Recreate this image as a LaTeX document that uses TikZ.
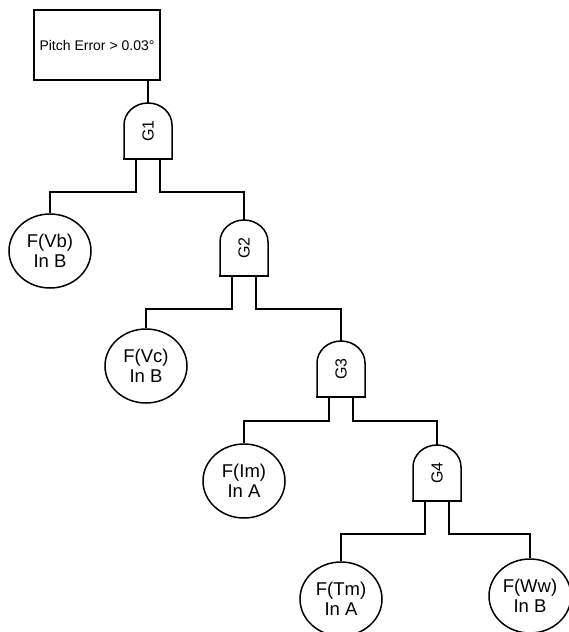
\documentclass[tikz,border=0pt]{standalone}
\usepackage{fontspec}
\setmainfont{Liberation Sans}
\usetikzlibrary{shapes.geometric}
\newcommand\drawgate[1]{%
  \draw[gateline,fill=white] (#1.south west) -- ([yshift=-22pt]#1.north west)
     arc[start angle=180,end angle=0,x radius=24pt,y radius=22pt] -- (#1.south east);
  \draw[gatebase] ([xshift=-0.6pt]#1.south west) -- ([xshift=0.6pt]#1.south east);
}
\begin{document}
\begin{tikzpicture}[x=1pt,y=1pt,
  conn/.style={line width=1.8pt},
  gateline/.style={line width=1.5pt},
  gatebase/.style={line width=2.8pt},
  gatebox/.style={minimum width=48pt,minimum height=56pt,inner sep=0pt,outer sep=0pt},
  event/.style={ellipse,draw,line width=1.5pt,minimum width=82pt,minimum height=74pt,
     inner sep=0pt,align=center,font=\fontsize{18.5}{20}\selectfont},
  topevent/.style={draw,line width=1.5pt,minimum width=126pt,minimum height=70pt,
     inner sep=0pt,font=\fontsize{14}{16}\selectfont},
  glabel/.style={rotate=90,font=\fontsize{16}{18}\selectfont}]
\useasboundingbox (0,0) rectangle (569,-632);
\clip (0,0) rectangle (569,-632);
\fill[white] (0,0) rectangle (569,-632);
% top event
\node[topevent] (T) at (97,-45) {Pitch Error > 0.03°};
% gates
\node[gatebox] (G1) at (148,-131) {};
\node[gatebox] (G2) at (244,-248) {};
\node[gatebox] (G3) at (341,-369) {};
\node[gatebox] (G4) at (437,-473) {};
% basic events
\node[event] (Vb) at (50,-251) {F(Vb)\\In B};
\node[event] (Vc) at (146,-366) {F(Vc)\\In B};
\node[event] (Im) at (244,-481) {F(Im)\\In A};
\node[event] (Tm) at (341,-599) {F(Tm)\\In A};
\node[event] (Ww) at (530,-596) {F(Ww)\\In B};
% connectors
\draw[conn] (T.south -| G1.north) -- (G1.north);
\draw[conn] ([xshift=-12pt]G1.south) -- ++(0,-33) -| (Vb.north);
\draw[conn] ([xshift=12pt]G1.south) -- ++(0,-33) -| (G2.north);
\draw[conn] ([xshift=-12pt]G2.south) -- ++(0,-33) -| (Vc.north);
\draw[conn] ([xshift=12pt]G2.south) -- ++(0,-33) -| (G3.north);
\draw[conn] ([xshift=-12pt]G3.south) -- ++(0,-24) -| (Im.north);
\draw[conn] ([xshift=12pt]G3.south) -- ++(0,-24) -| (G4.north);
\draw[conn] ([xshift=-12pt]G4.south) -- ++(0,-33) -| (Tm.north);
\draw[conn] ([xshift=12pt]G4.south) -- ++(0,-33) -| (Ww.north);
% gate shapes
\drawgate{G1}\drawgate{G2}\drawgate{G3}\drawgate{G4}
\node[glabel] (G1l) at (G1) {G1};
\node[glabel] (G2l) at (G2) {G2};
\node[glabel] (G3l) at (G3) {G3};
\node[glabel] (G4l) at (G4) {G4};
\end{tikzpicture}
\end{document}
